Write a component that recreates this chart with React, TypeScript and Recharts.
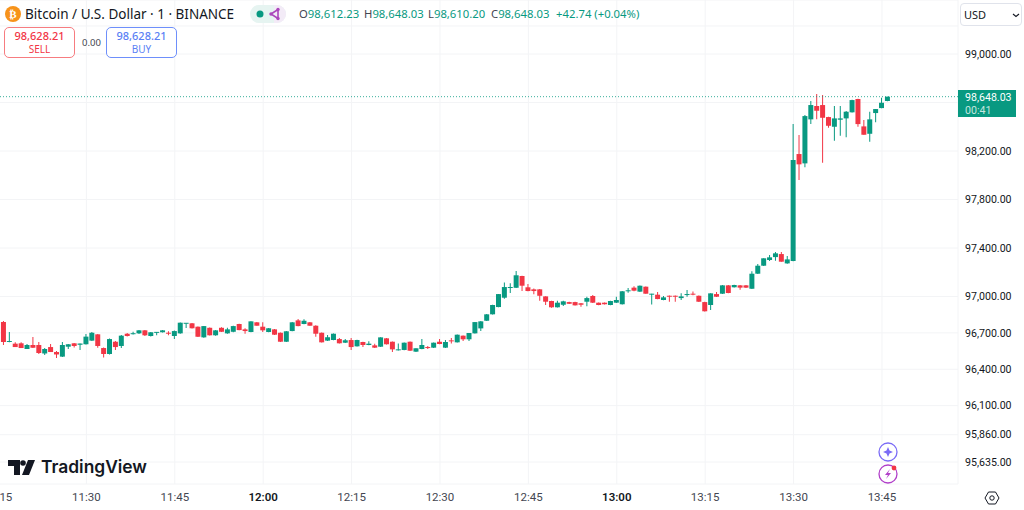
import { Bar, BarChart, CartesianGrid, Cell, ReferenceLine, XAxis, YAxis } from "recharts";

const FIRST_MINUTE = 676; // 11:16, the first whole candle in view

const opens = [
  96789, 96625, 96611, 96614, 96567, 96600, 96600, 96530, 96583, 96542,
  96504, 96586, 96614, 96602, 96606, 96636, 96688, 96575, 96526, 96627,
  96592, 96693, 96689, 96696, 96721, 96674, 96700, 96705, 96701, 96674,
  96696, 96775, 96779, 96751, 96663, 96742, 96680, 96742, 96696, 96709,
  96773, 96729, 96707, 96787, 96751, 96707, 96729, 96701, 96627, 96715,
  96803, 96773, 96787, 96759, 96701, 96636, 96641, 96649, 96619, 96641,
  96589, 96625, 96600, 96597, 96586, 96655, 96627, 96556, 96559, 96627,
  96545, 96567, 96583, 96578, 96627, 96578, 96635, 96622, 96677, 96647,
  96696, 96737, 96800, 96853, 96913, 96990, 97070, 97072, 97169, 97076,
  97059, 97059, 97001, 96963, 96911, 96932, 96954, 96954, 96944, 96957,
  97004, 96949, 96949, 96930, 96949, 96936, 97043, 97073, 97040, 97081,
  97015, 97015, 96971, 97006, 97006, 96987, 97012, 97020, 97006, 96954,
  96930, 97020, 97023, 97092, 97076, 97092, 97092, 97064, 97188, 97254,
  97301, 97325, 97350, 97273, 97293, 98175, 98098, 98461, 98571, 98579,
  98480, 98400, 98458, 98469, 98519, 98629, 98403, 98342, 98513, 98554,
  98612.23,
];
const highs = [
  96798, 96707, 96622, 96622, 96608, 96666, 96625, 96575, 96608, 96550,
  96625, 96608, 96616, 96612, 96691, 96707, 96691, 96579, 96654, 96633,
  96682, 96699, 96710, 96723, 96723, 96707, 96707, 96723, 96713, 96719,
  96786, 96780, 96781, 96753, 96756, 96744, 96723, 96746, 96742, 96758,
  96775, 96738, 96796, 96789, 96787, 96740, 96732, 96703, 96715, 96789,
  96814, 96812, 96789, 96762, 96703, 96682, 96695, 96658, 96649, 96658,
  96643, 96627, 96630, 96611, 96664, 96657, 96629, 96612, 96621, 96629,
  96574, 96649, 96592, 96621, 96649, 96641, 96658, 96687, 96679, 96700,
  96790, 96798, 96855, 96932, 97021, 97116, 97109, 97210, 97172, 97103,
  97067, 97061, 97003, 96965, 96965, 96965, 96956, 96956, 96946, 96998,
  97012, 96951, 96951, 96965, 96998, 97045, 97070, 97084, 97090, 97083,
  97022, 97037, 97004, 97008, 97008, 97026, 97053, 97041, 97008, 96956,
  97027, 97037, 97094, 97094, 97097, 97094, 97094, 97208, 97268, 97316,
  97342, 97366, 97366, 97334, 98422, 98332, 98497, 98612, 98670, 98662,
  98482, 98571, 98571, 98530, 98622, 98631, 98455, 98524, 98547, 98639,
  98648.03,
];
const lows = [
  96600, 96622, 96583, 96575, 96567, 96575, 96526, 96517, 96542, 96493,
  96501, 96567, 96579, 96559, 96604, 96633, 96578, 96497, 96522, 96559,
  96575, 96670, 96687, 96691, 96674, 96670, 96680, 96703, 96680, 96649,
  96693, 96740, 96736, 96666, 96660, 96678, 96676, 96707, 96693, 96705,
  96721, 96693, 96705, 96758, 96707, 96705, 96682, 96625, 96625, 96713,
  96754, 96771, 96758, 96668, 96620, 96633, 96639, 96612, 96617, 96559,
  96587, 96583, 96598, 96576, 96584, 96604, 96542, 96554, 96557, 96551,
  96543, 96565, 96567, 96576, 96606, 96576, 96612, 96620, 96633, 96633,
  96694, 96715, 96798, 96851, 96911, 96982, 97029, 97070, 97045, 97044,
  97018, 96965, 96930, 96907, 96909, 96921, 96938, 96925, 96915, 96920,
  96947, 96928, 96934, 96928, 96947, 96934, 97031, 97044, 97038, 97023,
  96935, 96978, 96969, 96957, 96957, 96971, 96997, 97010, 96955, 96876,
  96888, 96996, 97021, 97026, 97074, 97056, 97070, 97062, 97186, 97252,
  97293, 97295, 97287, 97271, 97291, 97961, 98065, 98422, 98461, 98103,
  98392, 98285, 98326, 98313, 98517, 98400, 98334, 98276, 98437, 98552,
  98610.2,
];
const closes = [
  96625, 96633, 96583, 96575, 96600, 96578, 96534, 96567, 96542, 96522,
  96600, 96606, 96592, 96612, 96669, 96701, 96592, 96526, 96649, 96583,
  96677, 96674, 96696, 96721, 96680, 96705, 96705, 96721, 96693, 96715,
  96784, 96779, 96738, 96668, 96756, 96680, 96721, 96709, 96729, 96756,
  96723, 96715, 96795, 96759, 96721, 96738, 96685, 96627, 96713, 96787,
  96756, 96800, 96759, 96693, 96622, 96664, 96693, 96614, 96639, 96583,
  96641, 96600, 96611, 96578, 96663, 96606, 96564, 96564, 96619, 96553,
  96573, 96600, 96575, 96619, 96608, 96625, 96630, 96685, 96647, 96699,
  96789, 96795, 96853, 96930, 97020, 97078, 97073, 97175, 97089, 97045,
  97045, 97006, 96957, 96911, 96949, 96960, 96940, 96927, 96932, 96987,
  96949, 96930, 96936, 96963, 96971, 97043, 97048, 97048, 97089, 97023,
  97020, 96979, 96993, 96998, 96998, 97001, 97020, 97015, 96957, 96878,
  97026, 96998, 97092, 97029, 97095, 97073, 97073, 97188, 97254, 97315,
  97323, 97356, 97287, 97306, 98126, 98090, 98488, 98579, 98532, 98474,
  98408, 98469, 98469, 98524, 98620, 98422, 98334, 98461, 98546, 98598,
  98648.03,
];

const timeTicks = [675, 690, 705, 720, 735, 750, 765, 780, 795, 810, 825];
const hourTicks = [720, 780];
const priceTicks = [99231, 99000, 98600, 98200, 97800, 97400, 97000, 96700, 96400, 96100, 95860, 95635];
const hiddenPriceLabels = [99231, 98600]; // lines drawn, labels covered by the USD box and the price tag

const LAST_PRICE = 98648.03;

const GREEN = "#089981";
const RED = "#f23645";
const FONT = "'Noto Sans', sans-serif";
const AXIS_FONT = "Roboto, sans-serif";

const rows = opens.map((open, i) => ({
  minute: FIRST_MINUTE + i,
  wick: [lows[i], highs[i]],
  body: [Math.min(open, closes[i]), Math.max(open, closes[i])],
  color: closes[i] >= open ? GREEN : RED,
}));

function fmtMinute(minute: number) {
  const h = Math.floor(minute / 60);
  return `${h}:${String(minute % 60).padStart(2, "0")}`;
}

function fmtPrice(value: number) {
  if (hiddenPriceLabels.includes(value)) return "";
  return value.toLocaleString("en-US", { minimumFractionDigits: 2, maximumFractionDigits: 2 });
}

function TimeTick({ x, y, payload }: any) {
  const bold = hourTicks.includes(payload.value);
  return (
    <text x={x} y={y + 9} textAnchor="middle" fontFamily={AXIS_FONT} fontSize={11.5} fontWeight={bold ? 600 : 400} fill={bold ? "#131722" : "#434651"}>
      {fmtMinute(payload.value)}
    </text>
  );
}

const abs = (left: number, top: number, extra: any = {}) => ({ position: "absolute" as const, left, top, whiteSpace: "nowrap" as const, ...extra });

function OhlcItem({ left, label, value }: { left: number; label: string; value: string }) {
  return (
    <span style={abs(left, 5, { fontSize: 11.3, lineHeight: "17px", color: GREEN })}>
      <span style={{ color: "#434651" }}>{label}</span>
      {value}
    </span>
  );
}

function TradeBox({ left, color, textColor, price, label }: { left: number; color: string; textColor: string; price: string; label: string }) {
  return (
    <div style={abs(left, 27, { width: 71, height: 31, boxSizing: "border-box", border: `1px solid ${color}`, borderRadius: 5, background: "#fff", color: textColor, textAlign: "center", fontSize: 11, lineHeight: "14px", paddingTop: 1 })}>
      <div style={{ fontWeight: 500 }}>{price}</div>
      <div style={{ fontSize: 10, lineHeight: "13px" }}>{label}</div>
    </div>
  );
}

export default function App() {
  return (
    <div style={{ position: "absolute", left: 0, top: 0, width: 1024, height: 510, overflow: "hidden", background: "#fff", fontFamily: FONT }}>
      <BarChart width={1024} height={510} data={rows} barGap={0} margin={{ top: 0, right: 0, bottom: 0, left: -2 }}>
        <CartesianGrid stroke="#f3f4f6" xAxisId="wick" />
        <XAxis xAxisId="body" dataKey="minute" type="number" domain={[675, 837.9]} height={0} hide />
        <XAxis
          xAxisId="wick"
          dataKey="minute"
          type="number"
          domain={[675, 837.9]}
          ticks={timeTicks}
          interval={0}
          height={26}
          axisLine={false}
          tickLine={false}
          tick={<TimeTick />}
        />
        <YAxis
          orientation="right"
          width={66}
          domain={[95453.6, 99445.4]}
          ticks={priceTicks}
          interval={0}
          axisLine={false}
          tickLine={false}
          tickMargin={1}
          tickFormatter={fmtPrice}
          tick={{ fontSize: 10.6, fill: "#131722", fontFamily: AXIS_FONT }}
        />
        <ReferenceLine xAxisId="wick" y={LAST_PRICE} stroke={GREEN} strokeDasharray="1 2" strokeOpacity={0.8} />
        <Bar xAxisId="wick" dataKey="wick" barSize={1} isAnimationActive={false}>
          {rows.map(row => (
            <Cell key={row.minute} fill={row.color} />
          ))}
        </Bar>
        <Bar xAxisId="body" dataKey="body" barSize={5} minPointSize={1} isAnimationActive={false}>
          {rows.map(row => (
            <Cell key={row.minute} fill={row.color} />
          ))}
        </Bar>
      </BarChart>

      {/* header */}
      <svg style={abs(5, 6)} width={16} height={16}>
        <circle cx={8} cy={8} r={8} fill="#f7931a" />
        <text x={8} y={12} textAnchor="middle" fontSize={11} fontWeight={700} fill="#fff" fontFamily="'DejaVu Sans'">₿</text>
      </svg>
      <span style={abs(25, 4, { fontSize: 13.5, lineHeight: "20px", color: "#131722" })}>Bitcoin / U.S. Dollar · 1 · BINANCE</span>
      <svg style={abs(250, 5)} width={36} height={18}>
        <rect width={36} height={18} rx={9} fill="#e6f4f1" />
        <path d="M24 0h3a9 9 0 0 1 0 18h-3z" fill="#f3ebf7" />
        <circle cx={10} cy={9} r={3.5} fill={GREEN} />
        <path d="M21 9l7-4.5v9z" fill="none" stroke="#ab47bc" strokeWidth={1.6} />
        <circle cx={21} cy={9} r={1.7} fill="#ab47bc" />
        <circle cx={28} cy={4.5} r={1.7} fill="#ab47bc" />
        <circle cx={28} cy={13.5} r={1.7} fill="#ab47bc" />
      </svg>
      <OhlcItem left={299} label="O" value="98,612.23" />
      <OhlcItem left={364} label="H" value="98,648.03" />
      <OhlcItem left={428} label="L" value="98,610.20" />
      <OhlcItem left={491} label="C" value="98,648.03" />
      <span style={abs(556, 5, { fontSize: 11.3, lineHeight: "17px", color: GREEN })}>+42.74 (+0.04%)</span>

      <TradeBox left={4} color="#f77c80" textColor={RED} price="98,628.21" label="SELL" />
      <span style={abs(82, 36, { fontSize: 9.5, lineHeight: "13px", color: "#434651" })}>0.00</span>
      <TradeBox left={106} color="#6e8ffb" textColor="#5b7ff5" price="98,628.21" label="BUY" />

      {/* currency box */}
      <div style={abs(960, 3, { width: 62, height: 23, boxSizing: "border-box", border: "1px solid #e0e3eb", borderRadius: 4, background: "#fff", color: "#131722", fontSize: 11, lineHeight: "21px", paddingLeft: 3 })}>
        USD
        <svg style={{ position: "absolute", left: 51, top: 9 }} width={8} height={5}>
          <path d="M1 1l3 2.5L7 1" fill="none" stroke="#131722" strokeWidth={1.1} />
        </svg>
      </div>

      {/* last price tag */}
      <div style={abs(958, 90, { width: 58, height: 27, background: GREEN, color: "#fff", fontFamily: AXIS_FONT, fontSize: 10.6, lineHeight: "13px", paddingLeft: 7, boxSizing: "border-box", paddingTop: 1 })}>
        <div>98,648.03</div>
        <div style={{ color: "#c3e6df" }}>00:41</div>
      </div>

      {/* watermark */}
      <svg style={abs(8, 459)} width={28} height={18}>
        <path d="M0 1h12v15H6V7H0z" fill="#131722" />
        <circle cx={15} cy={4} r={2.8} fill="#131722" />
        <path d="M20 1h7l-6 15h-7z" fill="#131722" />
      </svg>
      <span style={abs(41, 455, { fontFamily: "Inter, sans-serif", fontSize: 17.4, fontWeight: 600, lineHeight: "24px", color: "#131722" })}>TradingView</span>

      {/* bottom right buttons */}
      <svg style={abs(877, 441)} width={22} height={45}>
        <circle cx={11} cy={11} r={9} fill="#fff" stroke="#7b6cf6" strokeWidth={1.3} />
        <path d="M11 6l1.5 3.5L16 11l-3.5 1.5L11 16l-1.5-3.5L6 11l3.5-1.5z" fill="#7b6cf6" />
        <circle cx={11} cy={33} r={9} fill="#fff" stroke="#b13fc9" strokeWidth={1.3} />
        <path d="M13 28l-5 6h3l-2 4 5-6h-3z" fill="#b13fc9" />
        <circle cx={17} cy={27} r={2.4} fill={RED} />
      </svg>
      <svg style={abs(984, 490)} width={16} height={16}>
        <path d="M4.5 2h7L15 8l-3.5 6h-7L1 8z" fill="none" stroke="#131722" strokeWidth={1} />
        <circle cx={8} cy={8} r={2.2} fill="none" stroke="#131722" strokeWidth={1} />
      </svg>
    </div>
  );
}
